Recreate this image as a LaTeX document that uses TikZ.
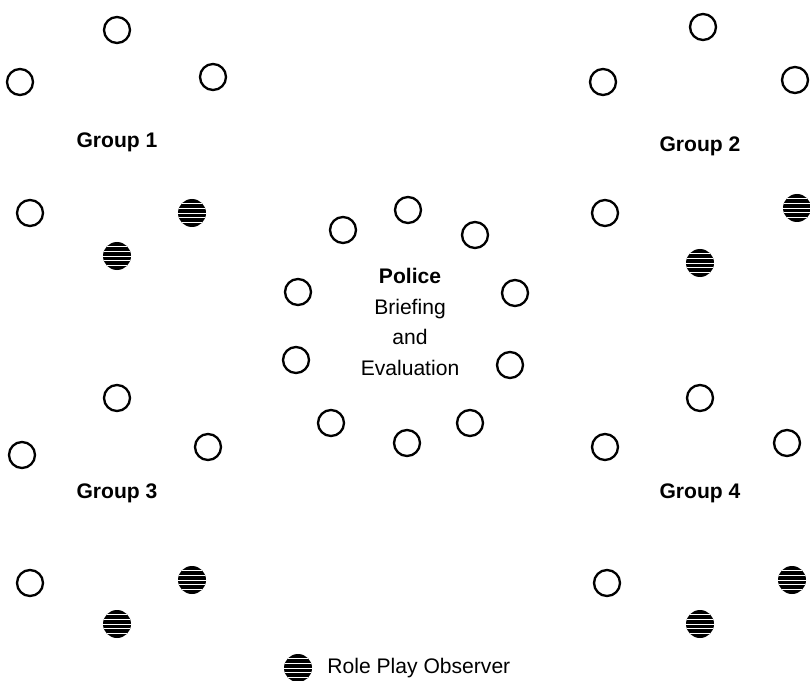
\documentclass[tikz,border=0pt]{standalone}
\usepackage{fontspec}
\setmainfont{Liberation Sans}
\usetikzlibrary{positioning}

\begin{document}
\begin{tikzpicture}[x=0.03cm, y=-0.03cm,
    font=\fontsize{18}{22}\selectfont,
    member/.style={draw, circle, line width=2pt, inner sep=0pt, minimum size=0.78cm},
    observer/.style={circle, fill=black, inner sep=0pt, minimum size=0.84cm,
      path picture={\foreach \k in {-2,...,2}
        \draw[white, line width=0.8pt]
          ([yshift=\k*4.2pt]path picture bounding box.west) --
          ([yshift=\k*4.2pt]path picture bounding box.east);}},
    grouplabel/.style={font=\fontsize{18}{22}\selectfont\bfseries}]
  \useasboundingbox (0,0) rectangle (810,681);

  % Group 1
  \node[member] (g1a) at (117,30) {};
  \node[member] (g1b) at (20,82) {};
  \node[member] (g1c) at (213,77) {};
  \node[grouplabel] (g1) at (117,142) {Group 1};
  \node[member] (g1d) at (30,213) {};
  \node[observer] (g1e) at (192,213) {};
  \node[observer] (g1f) at (117,256) {};

  % Group 2
  \node[member] (g2a) at (703,27) {};
  \node[member] (g2b) at (603,82) {};
  \node[member] (g2c) at (795,80) {};
  \node[grouplabel] (g2) at (700,146) {Group 2};
  \node[member] (g2d) at (605,213) {};
  \node[observer] (g2e) at (797,208) {};
  \node[observer] (g2f) at (700,263) {};

  % Group 3
  \node[member] (g3a) at (117,398) {};
  \node[member] (g3b) at (22,455) {};
  \node[member] (g3c) at (208,447) {};
  \node[grouplabel] (g3) at (117,493) {Group 3};
  \node[member] (g3d) at (30,583) {};
  \node[observer] (g3e) at (192,580) {};
  \node[observer] (g3f) at (117,624) {};

  % Group 4
  \node[member] (g4a) at (700,398) {};
  \node[member] (g4b) at (605,447) {};
  \node[member] (g4c) at (787,443) {};
  \node[grouplabel] (g4) at (700,493) {Group 4};
  \node[member] (g4d) at (607,583) {};
  \node[observer] (g4e) at (792,580) {};
  \node[observer] (g4f) at (700,624) {};

  % police ring
  \foreach \px/\py [count=\i] in {408/210, 475/235, 515/293, 510/365, 470/423,
      407/443, 331/423, 296/360, 298/292, 343/230}
    \node[member] (p\i) at (\px,\py) {};
  \node[align=center, font=\fontsize{18}{26}\selectfont] (police) at (410,322)
    {\textbf{Police}\\Briefing\\and\\Evaluation};

  % legend
  \node[observer] (key) at (298,668) {};
  \node[right=0.45cm of key, inner sep=0pt] (keytext) {Role Play Observer};
\end{tikzpicture}
\end{document}
